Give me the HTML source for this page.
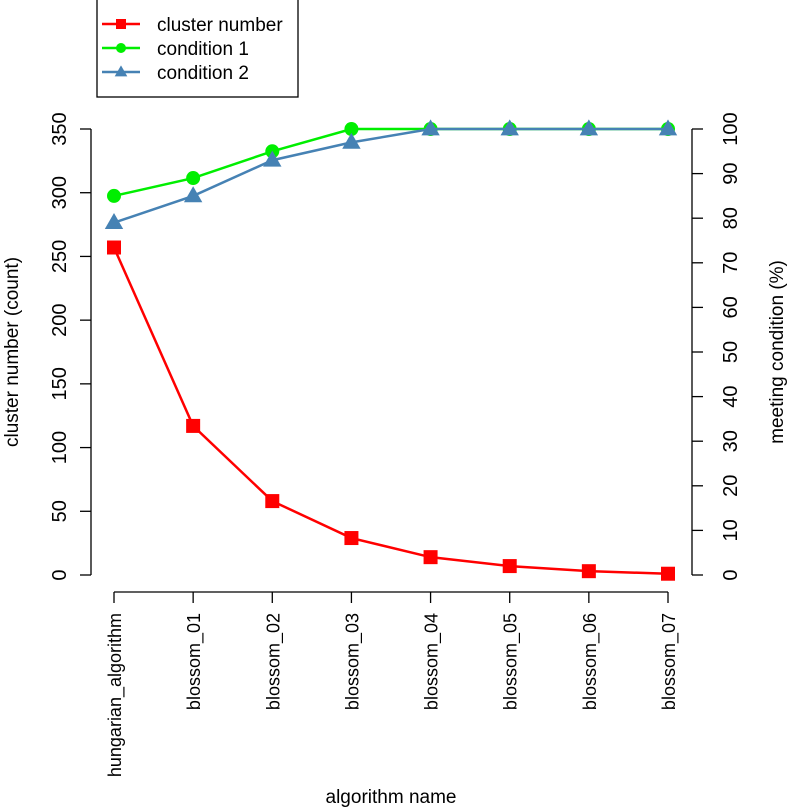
<!DOCTYPE html>
<html><head><style>body{margin:0;background:#fff}svg{font-family:"Liberation Sans",Arial,sans-serif}</style></head>
<body>
<svg id="c" width="787" height="807"></svg>
<script>
const categories=["hungarian_algorithm","blossom_01","blossom_02","blossom_03","blossom_04","blossom_05","blossom_06","blossom_07"];
const clusterNumber=[257,117,58,29,14,7,3,1];
const condition1=[85,89,95,100,100,100,100,100];
const condition2=[79,85,93,97,100,100,100,100];
const leftTicks=[0,50,100,150,200,250,300,350];
const rightTicks=[0,10,20,30,40,50,60,70,80,90,100];
const NS="http://www.w3.org/2000/svg";
const svg=document.getElementById('c');
function el(t,a,p){const e=document.createElementNS(NS,t);for(const k in a)e.setAttribute(k,a[k]);(p||svg).appendChild(e);return e;}
const x=i=>114+i*(668-114)/7;
const yL=v=>575-v*(575-129)/350;
const yR=v=>575-v*(575-129)/100;
let g=el('g',{});
el('line',{x1:91,x2:91,y1:yL(0),y2:yL(350),stroke:'#000','stroke-width':1.3},g);
leftTicks.forEach(v=>{el('line',{x1:80,x2:91,y1:yL(v),y2:yL(v),stroke:'#000','stroke-width':1.3},g);
const t=el('text',{x:0,y:0,'font-size':20,'text-anchor':'middle',transform:`translate(66,${yL(v)}) rotate(-90)`},g);t.textContent=v;});
g=el('g',{});
el('line',{x1:692,x2:692,y1:yR(0),y2:yR(100),stroke:'#000','stroke-width':1.3},g);
rightTicks.forEach(v=>{el('line',{x1:692,x2:703,y1:yR(v),y2:yR(v),stroke:'#000','stroke-width':1.3},g);
const t=el('text',{x:0,y:0,'font-size':20,'text-anchor':'middle',transform:`translate(737,${yR(v)}) rotate(-90)`},g);t.textContent=v;});
g=el('g',{});
el('line',{x1:x(0),x2:x(7),y1:592,y2:592,stroke:'#000','stroke-width':1.3},g);
categories.forEach((c,i)=>{el('line',{x1:x(i),x2:x(i),y1:592,y2:603,stroke:'#000','stroke-width':1.3},g);
const t=el('text',{x:0,y:0,'font-size':18,'text-anchor':'end',transform:`translate(${x(i)+7},613) rotate(-90)`},g);t.textContent=c;});
let t=el('text',{x:391,y:803,'font-size':19,'text-anchor':'middle'});t.textContent='algorithm name';

t=el('text',{x:0,y:0,'font-size':19,'text-anchor':'middle',transform:'translate(18,352) rotate(-90)'});t.textContent='cluster number (count)';

t=el('text',{x:0,y:0,'font-size':19,'text-anchor':'middle',transform:'translate(783,352) rotate(-90)'});t.textContent='meeting condition (%)';

function marker(type,cx,cy,col,p,s){
 if(type==='sq')return el('rect',{x:cx-s,y:cy-s,width:2*s,height:2*s,fill:col},p);
 if(type==='ci')return el('circle',{cx,cy,r:s,fill:col},p);
 return el('polygon',{points:`${cx},${cy-s*1.2} ${cx-s*1.15},${cy+s*0.8} ${cx+s*1.15},${cy+s*0.8}`,fill:col},p);}
function series(name,vals,yf,col,type,s){
 const sg=el('g',{});
 el('polyline',{points:vals.map((v,i)=>x(i)+','+yf(v)).join(' '),fill:'none',stroke:col,'stroke-width':2.5},sg);
 vals.forEach((v,i)=>marker(type,x(i),yf(v),col,sg,s));}
series('series-condition-1',condition1,yR,'#00ee00','ci',7);
series('series-cluster-number',clusterNumber,yL,'#ff0000','sq',7);
series('series-condition-2',condition2,yR,'#4682b4','tr',8);
g=el('g',{});
el('rect',{x:97,y:-2,width:201,height:99,fill:'#fff',stroke:'#000','stroke-width':1.3},g);
[['cluster number','#ff0000','sq',5],['condition 1','#00ee00','ci',5],['condition 2','#4682b4','tr',5.5]].forEach((d,i)=>{
 const y=24+i*24;const eg=el('g',{},g);
 el('line',{x1:102,x2:140,y1:y,y2:y,stroke:d[1],'stroke-width':2.5},eg);marker(d[2],121,y,d[1],eg,d[3]);
 const tt=el('text',{x:157,y:y+7,'font-size':19},eg);tt.textContent=d[0];});
</script>
</body></html>
